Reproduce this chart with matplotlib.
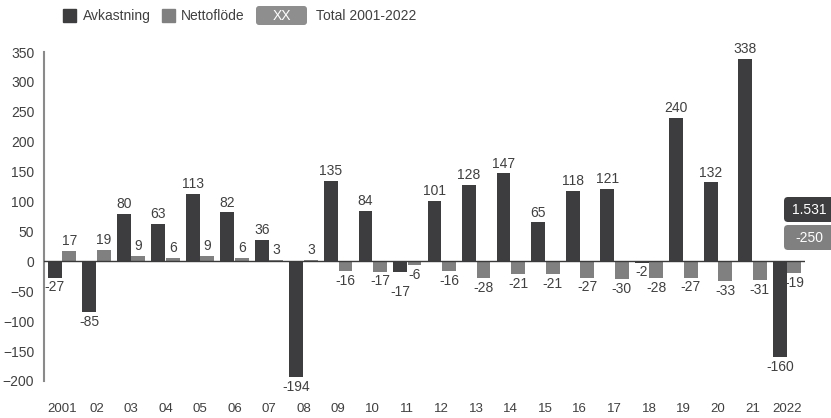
import matplotlib
matplotlib.use('Agg')
import matplotlib.pyplot as plt
from matplotlib.patches import FancyBboxPatch, Rectangle
import numpy as np

plt.rcParams['font.family'] = ['Liberation Sans', 'DejaVu Sans']

years = ['2001', '02', '03', '04', '05', '06', '07', '08', '09', '10', '11',
         '12', '13', '14', '15', '16', '17', '18', '19', '20', '21', '2022']
avkastning = [-27, -85, 80, 63, 113, 82, 36, -194, 135, 84, -17,
              101, 128, 147, 65, 118, 121, -2, 240, 132, 338, -160]
nettoflode = [17, 19, 9, 6, 9, 6, 3, 3, -16, -17, -6,
              -16, -28, -21, -21, -27, -30, -28, -27, -33, -31, -19]
legend_labels = ['Avkastning', 'Nettoflöde', 'Total 2001-2022']
legend_box_text = 'XX'
total_avkastning = '1.531'
total_nettoflode = '-250'

DARK = '#3d3d3f'
GREY = '#808080'
LIGHTGREY = '#8e8e8e'
TXT = '#404040'
FS = 10

W, H = 831, 418
fig = plt.figure(figsize=(W / 100, H / 100), dpi=100)
ax = fig.add_axes([44 / W, 1 - 381 / H, (805 - 44) / W, (381 - 52) / H])

x = np.arange(len(years))
bw = 0.4
off = 0.21
bars1 = ax.bar(x - off, avkastning, bw, color=DARK, zorder=2)
bars2 = ax.bar(x + off, nettoflode, bw, color=GREY, zorder=2)

ax.set_xlim(-0.52, len(years) - 0.48)
ax.set_ylim(-200, 350)
ax.axhline(0, color='#3a3a3a', lw=1.0, zorder=3)

for sp in ['top', 'right', 'bottom']:
    ax.spines[sp].set_visible(False)
ax.spines['left'].set_color('#8a8a8a')
ax.spines['left'].set_linewidth(1.5)

ax.set_yticks(np.arange(-200, 351, 50))
ax.set_xticks(x)
ax.set_xticklabels(years)
ax.tick_params(axis='y', length=0, pad=7, labelsize=FS, labelcolor=TXT)
ax.tick_params(axis='x', length=0, pad=16, labelsize=FS - 0.5, labelcolor=TXT)

# nudges to avoid overlapping labels (points)
nudge_avk = {10: -8}

def label(bars, vals, nudge):
    for i, (b, v) in enumerate(zip(bars, vals)):
        cx = b.get_x() + b.get_width() / 2
        if v >= 0:
            ax.annotate(str(v), (cx, v), xytext=(0, 2), textcoords='offset points',
                        ha='center', va='bottom', fontsize=FS, color=TXT)
        else:
            ax.annotate(str(v), (cx, v), xytext=(0, -2 + nudge.get(i, 0)),
                        textcoords='offset points',
                        ha='center', va='top', fontsize=FS, color=TXT)

label(bars1, avkastning, nudge_avk)
label(bars2, nettoflode, {})

# ---- legend (pixel coordinates via inches) ----
tr = fig.dpi_scale_trans

def px(xp, yp):
    return xp / 100, (H - yp) / 100

def rect(x0, y0, x1, y1, color):
    xa, ya = px(x0, y1)
    fig.patches.append(Rectangle((xa, ya), (x1 - x0) / 100, (y1 - y0) / 100,
                                 transform=tr, color=color, figure=fig))

def rbox(x0, y0, x1, y1, color, r=3):
    xa, ya = px(x0, y1)
    fig.patches.append(FancyBboxPatch((xa, ya), (x1 - x0) / 100, (y1 - y0) / 100,
                                      boxstyle=f'round,pad=0,rounding_size={r/100}',
                                      transform=tr, facecolor=color, edgecolor='none',
                                      figure=fig))

def ftext(xp, yp, s, **kw):
    xa, ya = px(xp, yp)
    fig.text(xa, ya, s, transform=tr, fontsize=FS, va='center', **kw)

rect(63, 9, 76, 22, DARK)
ftext(83, 16, legend_labels[0], color=TXT)
rect(162, 9, 175, 22, GREY)
ftext(181, 16, legend_labels[1], color=TXT)
rbox(256, 6, 307, 25, LIGHTGREY)
ftext(281.5, 16, legend_box_text, color='white', ha='center')
ftext(316, 16, legend_labels[2], color=TXT)

# ---- totals on the right ----
rbox(784, 197, 845, 222, DARK, r=4)
ftext(809, 210, total_avkastning, color='white', ha='center')
rbox(784, 225, 845, 250, GREY, r=4)
ftext(809, 238, total_nettoflode, color='white', ha='center')

fig.savefig('out.png', dpi=100)
